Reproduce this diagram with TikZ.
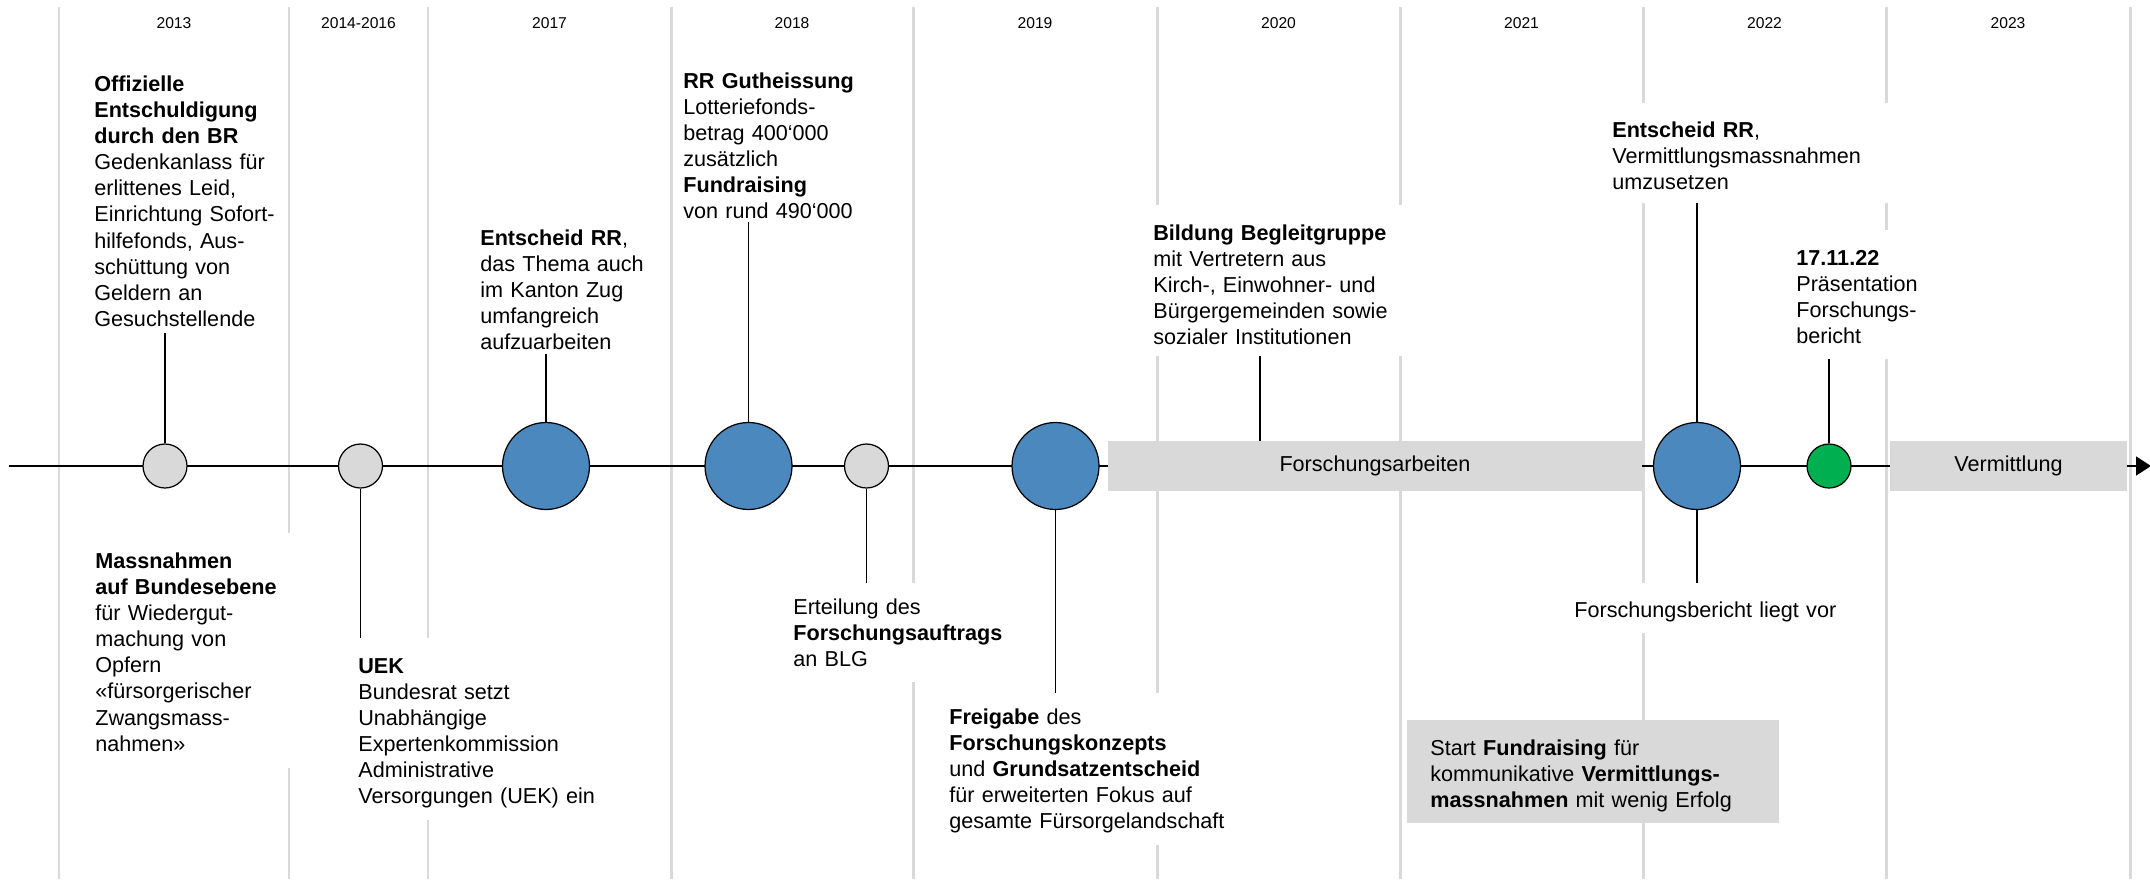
\documentclass[tikz,border=0pt]{standalone}
\usepackage{fontspec}
\setmainfont{Liberation Sans}
\usepackage{color}
\definecolor{mygrey}{RGB}{217,217,217}
\definecolor{myblue}{RGB}{74,136,190}
\definecolor{mygreen}{RGB}{0,176,80}
\usepackage{tikz}
\usetikzlibrary{arrows.meta,positioning,calc}
\newcommand{\bodyfont}{\fontsize{12.3pt}{14.9pt}\selectfont}
\newcommand{\yearfont}{\fontsize{8.9pt}{10pt}\selectfont}

\begin{document}
\begin{tikzpicture}[
  x=0.02cm, y=-0.02cm,
  mycircle/.style={draw, line width=0.7pt, circle, inner sep=0pt, minimum size=#1},
  mydot/.style={mycircle=0.88cm, fill=mygrey},
  mybig/.style={mycircle=1.74cm, fill=myblue},
  mytext/.style={fill=white, anchor=base west, align=left, inner sep=0pt, font=\bodyfont},
  mybar/.style={fill=mygrey, inner sep=0pt, minimum height=1cm, font=\bodyfont},
  myline/.style={line width=0.7pt}
]
\useasboundingbox (0,0) rectangle (2150,879);

\foreach \xv [count=\i] in {59,289,428,671,913,1157,1400,1643,1886,2130}
  \draw[mygrey, line width=1.7pt] (\xv,7) coordinate (v\i) -- (\xv,879);

\foreach \yr [count=\i] in {2013,2014-2016,2017,2018,2019,2020,2021,2022,2023}{
  \pgfmathtruncatemacro\j{\i+1}
  \node[font=\yearfont, anchor=base] (yr\i) at ($(v\i)!0.5!(v\j)+(0,21.3)$) {\yr};
}

\coordinate (start) at (9,466);
\coordinate (end) at (2151,466);
\draw[line width=0.9pt, -{Triangle[length=0.3cm,width=0.38cm]}] (start) -- (end);

\node[mybar, minimum width=10.68cm] (arbeit) at (1375,466) {Forschungsarbeiten};
\node[mybar, minimum width=4.74cm] (vermitt) at (2008.5,466) {Vermittlung};

\node[mydot] (c13) at (165,466) {};
\node[mydot] (c14) at (360.5,466) {};
\node[mybig] (c17) at (546,466) {};
\node[mybig] (c18) at (748.5,466) {};
\node[mydot] (c18b) at (866.5,466) {};
\node[mybig] (c19) at (1055.5,466) {};
\node[mybig] (c22) at (1697,466) {};
\node[mydot, fill=mygreen] (c22b) at (1829,466) {};

\node[mytext, text width=3.8cm, text height=0.4cm, text depth=4.84cm] (t13) at (94,91)
  {\textbf{Offizielle}\\ \textbf{Entschuldigung}\\ \textbf{durch den BR}\\ Gedenkanlass für\\ erlittenes Leid,\\ Einrichtung Sofort-\\ hilfefonds, Aus-\\ schüttung von\\ Geldern an\\ Gesuchstellende};
\node[mytext, text width=4cm, text height=0.7cm, text depth=4cm] (t13b) at (95,568)
  {\textbf{Massnahmen}\\ \textbf{auf Bundesebene}\\ für Wiedergut-\\ machung von\\ Opfern\\ «fürsorgerischer\\ Zwangsmass-\\ nahmen»};
\node[mytext, text width=5.2cm, text height=0.7cm, text depth=2.94cm] (t14) at (358,673)
  {\textbf{UEK}\\ Bundesrat setzt\\ Unabhängige\\ Expertenkommission\\ Administrative\\ Versorgungen (UEK) ein};
\node[mytext, text width=3.6cm, text height=0.5cm, text depth=2.18cm] (t17) at (480,245)
  {\textbf{Entscheid RR},\\ das Thema auch\\ im Kanton Zug\\ umfangreich\\ aufzuarbeiten};
\node[mytext, text width=4cm, text height=0.5cm, text depth=2.68cm] (t18) at (683,88)
  {\textbf{RR Gutheissung}\\ Lotteriefonds-\\ betrag 400‘000\\ zusätzlich\\ \textbf{Fundraising}\\ von rund 490‘000};
\node[mytext, text width=4.6cm, text height=0.62cm, text depth=1.36cm] (t18b) at (793,614)
  {Erteilung des\\ \textbf{Forschungsauftrags}\\ an BLG};
\node[mytext, text width=6cm, text height=0.62cm, text depth=2.42cm] (t19) at (949,724)
  {\textbf{Freigabe} des\\ \textbf{Forschungskonzepts}\\ und \textbf{Grundsatzentscheid}\\ für erweiterten Fokus auf\\ gesamte Fürsorgelandschaft};
\node[mytext, text width=5.2cm, text height=0.7cm, text depth=2.32cm] (t20) at (1153,240)
  {\textbf{Bildung Begleitgruppe}\\ mit Vertretern aus\\ Kirch-, Einwohner- und\\ Bürgergemeinden sowie\\ sozialer Institutionen};
\node[mytext, text width=5.7cm, text height=0.68cm, text depth=1.32cm] (t22) at (1612,137)
  {\textbf{Entscheid RR},\\ Vermittlungsmassnahmen\\ umzusetzen};
\node[mytext, align=center, text width=5.6cm, text height=0.68cm, text depth=0.32cm] (t22b) at (1565,617)
  {Forschungsbericht liegt vor};
\node[mytext, text width=2.8cm, text height=0.7cm, text depth=1.88cm] (t22g) at (1796,265)
  {\textbf{17.11.22}\\ Präsentation\\ Forschungs-\\ bericht};
\node[mytext, fill=mygrey, inner xsep=0.46cm, text width=6.52cm, text height=0.7cm, text depth=1.36cm] (fund) at (1407,755)
  {Start \textbf{Fundraising} für\\ kommunikative \textbf{Vermittlungs-}\\ \textbf{massnahmen} mit wenig Erfolg};

\coordinate (k20) at (1260,466);
\draw[myline] (c13.north) -- (c13.north |- t13.south);
\draw[myline] (c14.south) -- (c14.south |- t14.north);
\draw[myline] (c17.north) -- (c17.north |- t17.south);
\draw[myline] (c18.north) -- (c18.north |- t18.south);
\draw[myline] (c18b.south) -- (c18b.south |- t18b.north);
\draw[myline] (c19.south) -- (c19.south |- t19.north);
\draw[myline] (k20 |- t20.south) -- (k20 |- arbeit.north);
\draw[myline] (c22.north) -- (c22.north |- t22.south);
\draw[myline] (c22.south) -- (c22.south |- t22b.north);
\draw[myline] (c22b.north) -- (c22b.north |- t22g.south);

\end{tikzpicture}
\end{document}
